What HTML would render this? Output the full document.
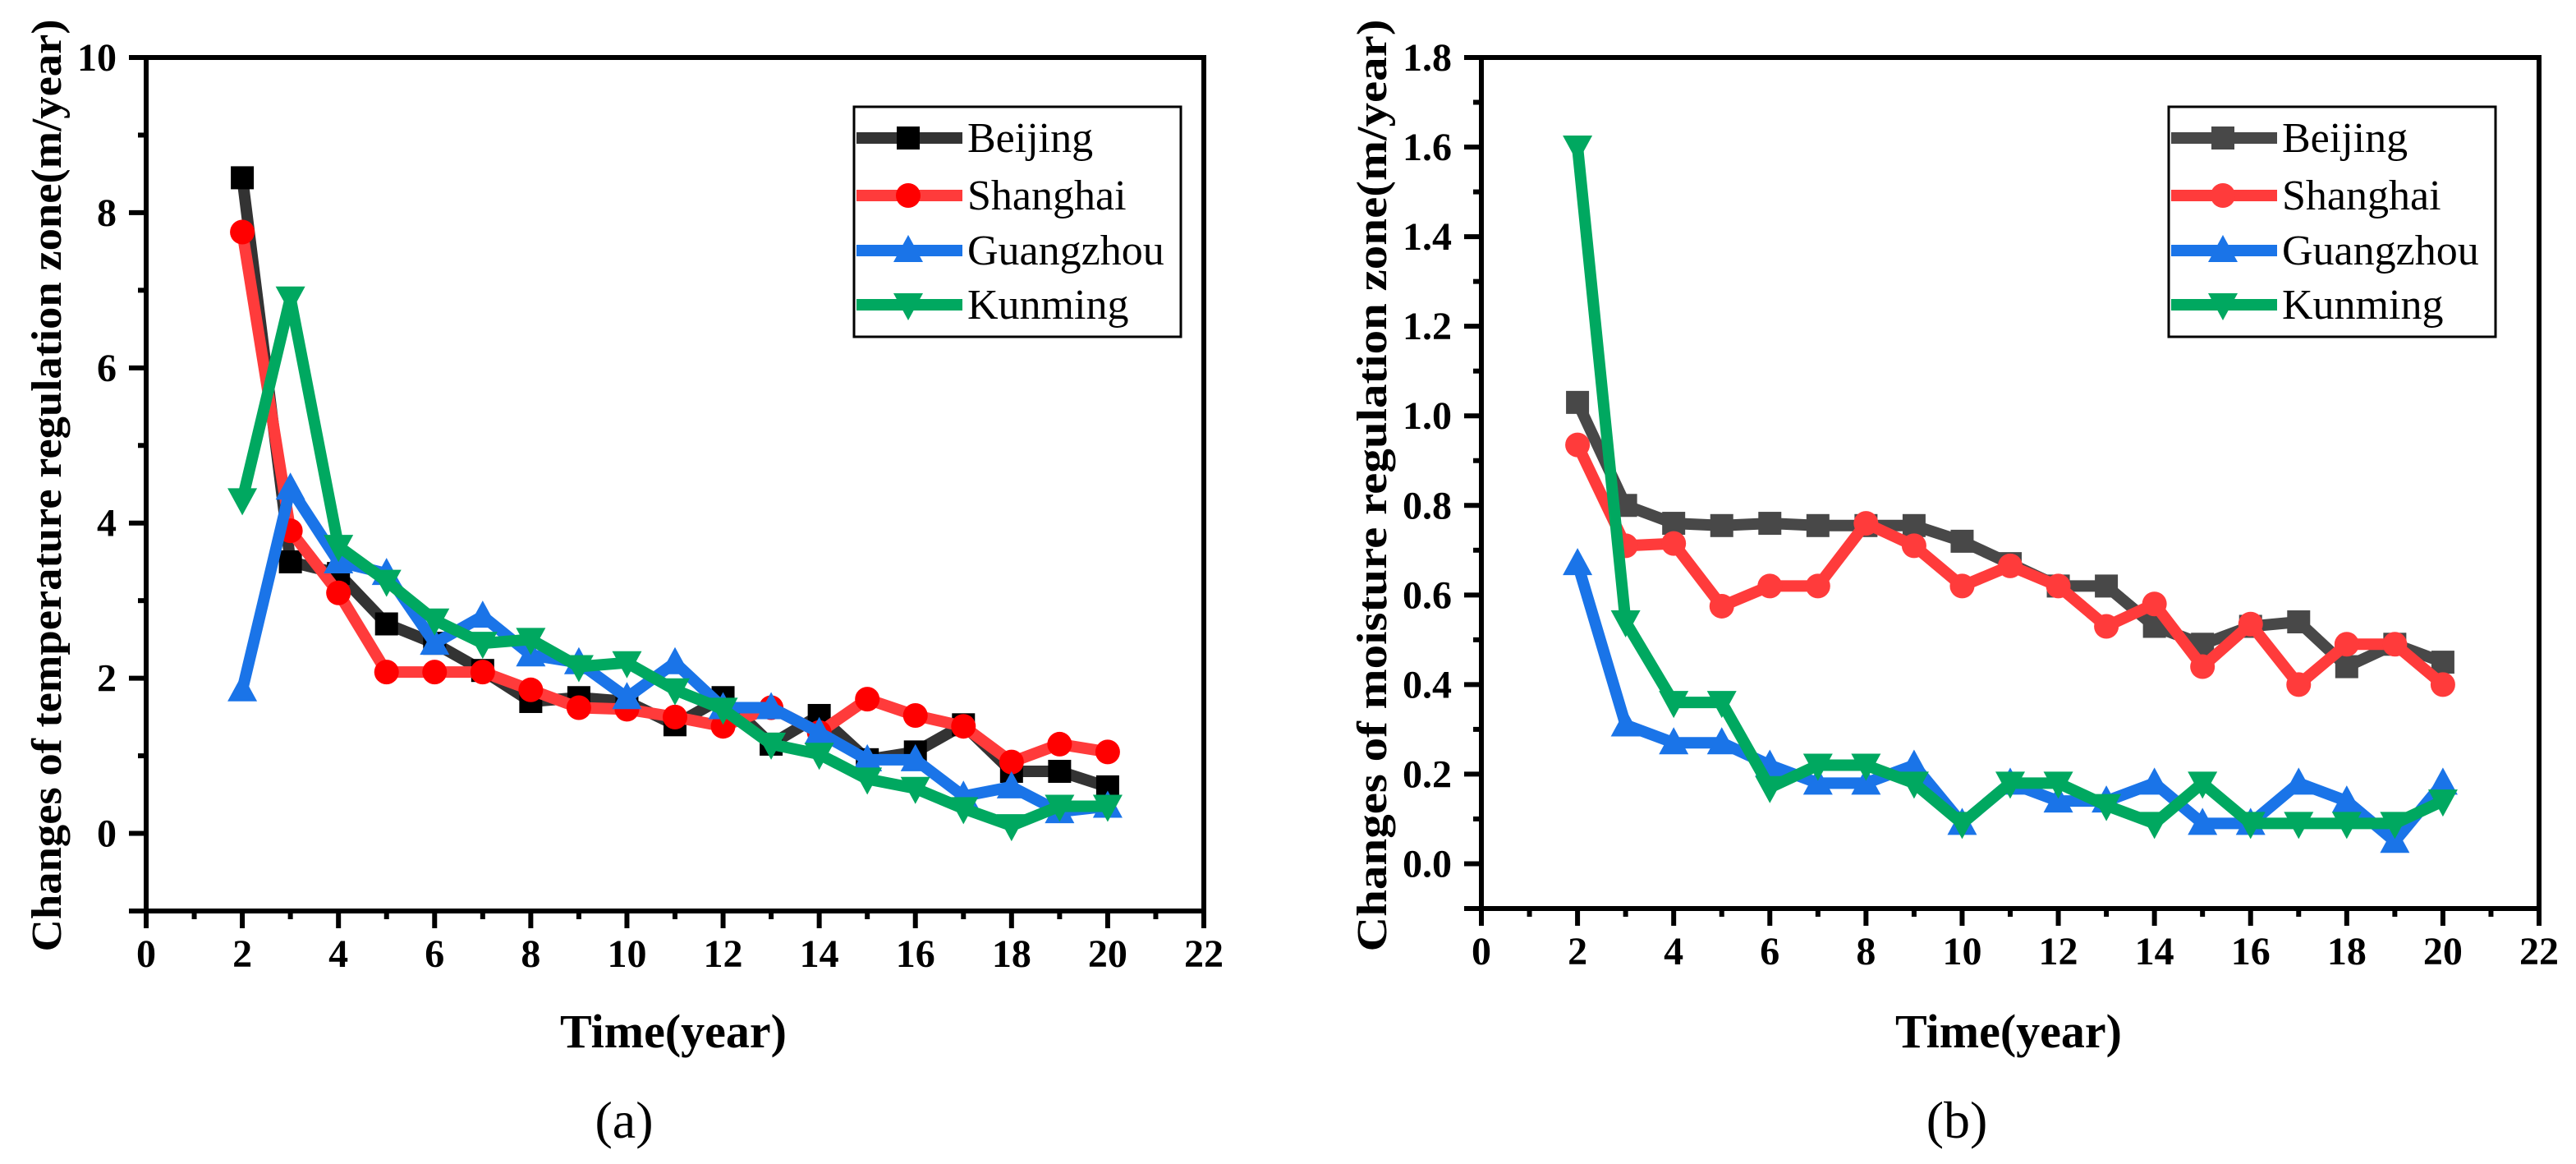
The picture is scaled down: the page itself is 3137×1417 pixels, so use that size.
<!DOCTYPE html>
<html><head><meta charset="utf-8"><style>
html,body{margin:0;padding:0;background:#fff;}
svg{display:block;}
text{font-family:"Liberation Serif",serif;}
</style></head><body>
<svg id="svg" width="3137" height="1417" xmlns="http://www.w3.org/2000/svg"></svg>
<script>
const years = [2,3,4,5,6,7,8,9,10,11,12,13,14,15,16,17,18,19,20];
const tempBeijing = [8.45,3.5,3.35,2.7,2.45,2.1,1.7,1.75,1.7,1.4,1.75,1.15,1.52,0.95,1.05,1.4,0.8,0.8,0.6];
const tempShanghai = [7.75,3.9,3.1,2.08,2.08,2.08,1.85,1.62,1.6,1.5,1.38,1.62,1.3,1.73,1.52,1.38,0.92,1.15,1.05];
const tempGuangzhou = [1.85,4.45,3.5,3.35,2.45,2.8,2.3,2.2,1.75,2.2,1.62,1.62,1.3,0.95,0.95,0.48,0.6,0.28,0.35];
const tempKunming = [4.3,6.9,3.7,3.25,2.75,2.45,2.5,2.15,2.2,1.85,1.6,1.15,1.02,0.7,0.58,0.32,0.1,0.35,0.35];
const moistBeijing = [1.03,0.8,0.76,0.755,0.76,0.755,0.755,0.755,0.72,0.67,0.62,0.62,0.53,0.49,0.53,0.54,0.44,0.49,0.45];
const moistShanghai = [0.935,0.71,0.715,0.575,0.62,0.62,0.76,0.71,0.62,0.665,0.62,0.53,0.58,0.44,0.535,0.40,0.49,0.49,0.40];
const moistGuangzhou = [0.67,0.31,0.27,0.27,0.22,0.18,0.18,0.22,0.09,0.18,0.14,0.14,0.18,0.09,0.09,0.18,0.14,0.05,0.18];
const moistKunming = [1.6,0.54,0.36,0.36,0.17,0.22,0.22,0.18,0.09,0.18,0.18,0.13,0.09,0.18,0.09,0.09,0.09,0.09,0.14];
const xTicks = [0,2,4,6,8,10,12,14,16,18,20,22];
const tempYTicks = [0,2,4,6,8,10];
const moistYTicks = [0.0,0.2,0.4,0.6,0.8,1.0,1.2,1.4,1.6,1.8];
const cityNames = ["Beijing","Shanghai","Guangzhou","Kunming"];

const NS="http://www.w3.org/2000/svg";
const svg=document.getElementById('svg');
function mk(tag,attrs,parent){const e=document.createElementNS(NS,tag);for(const k in attrs)e.setAttribute(k,attrs[k]);(parent||svg).appendChild(e);return e;}

function marker(g,shape,cx,cy,color){
  let e;
  if(shape==='sq'){e=mk('rect',{x:cx-14,y:cy-14,width:28,height:28,fill:color},g);}
  else if(shape==='ci'){e=mk('circle',{cx:cx,cy:cy,r:15,fill:color},g);}
  else if(shape==='up'){e=mk('polygon',{points:`${cx},${cy-19} ${cx-18},${cy+14} ${cx+18},${cy+14}`,fill:color},g);}
  else {e=mk('polygon',{points:`${cx},${cy+19} ${cx-18},${cy-14} ${cx+18},${cy-14}`,fill:color},g);}
  return e;
}

function chart(opt){
  const g=mk('g',{});
  
  
  const L=opt.L,R=opt.R,T=opt.T,B=opt.B;
  const xs=v=>L+(v-0)/(22-0)*(R-L);
  const ys=v=>B-(v-opt.ymin)/(opt.ymax-opt.ymin)*(B-T);
  opt.series.forEach((s,i)=>{
    const sg=mk('g',{},g);
    
    
    const pts=years.map((x,j)=>xs(x)+','+ys(s.data[j])).join(' ');
    const pl=mk('polyline',{points:pts,fill:'none',stroke:s.color,'stroke-width':14,'stroke-linejoin':'round'},sg);
    
    
    years.forEach((x,j)=>{
      const m=marker(sg,s.shape,xs(x),ys(s.data[j]),s.mcolor);
      
      
    });
  });
  const fr=mk('rect',{x:L,y:T,width:R-L,height:B-T,fill:'none',stroke:'#000','stroke-width':6},g);
  
  
  for(let v=0;v<=22;v++){
    const major=v%2===0;
    mk('line',{x1:xs(v),x2:xs(v),y1:B,y2:B+(major?21:10),stroke:'#000','stroke-width':6},g);
  }
  xTicks.forEach(v=>{
    const t=mk('text',{x:xs(v),y:B+68,'text-anchor':'middle','font-size':48,'font-weight':'bold'},g);
    t.textContent=v;
    
    
  });
  const step=opt.yminor;
  for(let v=opt.ymin;v<=opt.ymax+1e-9;v+=step){
    const major=opt.yTicks.some(t=>Math.abs(t-v)<1e-6) || Math.abs(v-opt.ymin)<1e-9;
    mk('line',{x1:L,x2:L-(major?21:10),y1:ys(v),y2:ys(v),stroke:'#000','stroke-width':6},g);
  }
  opt.yTicks.forEach(v=>{
    const t=mk('text',{x:L-36,y:ys(v)+16,'text-anchor':'end','font-size':48,'font-weight':'bold'},g);
    t.textContent=opt.fmt(v);
    
    
  });
  const xt=mk('text',{x:opt.xtX,y:1275,'text-anchor':'middle','font-size':58,'font-weight':'bold'},g);
  xt.textContent='Time(year)';
  
  
  const yt=mk('text',{x:0,y:0,'text-anchor':'middle','font-size':52,'font-weight':'bold',transform:`translate(${opt.ytX},591) rotate(-90)`,textLength:1135,lengthAdjust:'spacingAndGlyphs'},g);
  yt.textContent=opt.ytitle;
  
  
  const pl=mk('text',{x:opt.labX,y:1385,'text-anchor':'middle','font-size':64},g);
  pl.textContent=opt.panel;
  
  
  const lg=mk('g',{},g);
  
  
  mk('rect',{x:opt.lgX,y:130,width:398,height:280,fill:'#fff',stroke:'#000','stroke-width':3},lg);
  const rows=[168,238,305,371];
  opt.series.forEach((s,i)=>{
    const e=mk('g',{},lg);
    
    
    mk('line',{x1:opt.lgX+3,x2:opt.lgX+132,y1:rows[i],y2:rows[i],stroke:s.color,'stroke-width':14},e);
    marker(e,s.shape,opt.lgX+66,rows[i],s.mcolor);
    const t=mk('text',{x:opt.lgX+138,y:rows[i]+17,'font-size':52},e);
    t.textContent=cityNames[i];
  });
}

chart({name:'chart-temperature',L:178,R:1466,T:70,B:1109,ymin:-1,ymax:10,yminor:1,yTicks:tempYTicks,fmt:v=>String(v),
  ytitle:'Changes of temperature regulation zone(m/year)',ytX:74,xtX:820,labX:760,panel:'(a)',lgX:1040,
  series:[
    {data:tempBeijing,color:'#333333',mcolor:'#000',shape:'sq'},
    {data:tempShanghai,color:'#ff3b3b',mcolor:'#ff0000',shape:'ci'},
    {data:tempGuangzhou,color:'#1a74e8',mcolor:'#1a74e8',shape:'up'},
    {data:tempKunming,color:'#00a860',mcolor:'#00a860',shape:'dn'}]});

chart({name:'chart-moisture',L:1804,R:3092,T:70,B:1106,ymin:-0.1,ymax:1.8,yminor:0.1,yTicks:moistYTicks,fmt:v=>v.toFixed(1),
  ytitle:'Changes of moisture regulation zone(m/year)',ytX:1688,xtX:2446,labX:2383,panel:'(b)',lgX:2641,
  series:[
    {data:moistBeijing,color:'#484848',mcolor:'#484848',shape:'sq'},
    {data:moistShanghai,color:'#ff3b3b',mcolor:'#ff3b3b',shape:'ci'},
    {data:moistGuangzhou,color:'#1a74e8',mcolor:'#1a74e8',shape:'up'},
    {data:moistKunming,color:'#00a860',mcolor:'#00a860',shape:'dn'}]});
</script>
</body></html>
